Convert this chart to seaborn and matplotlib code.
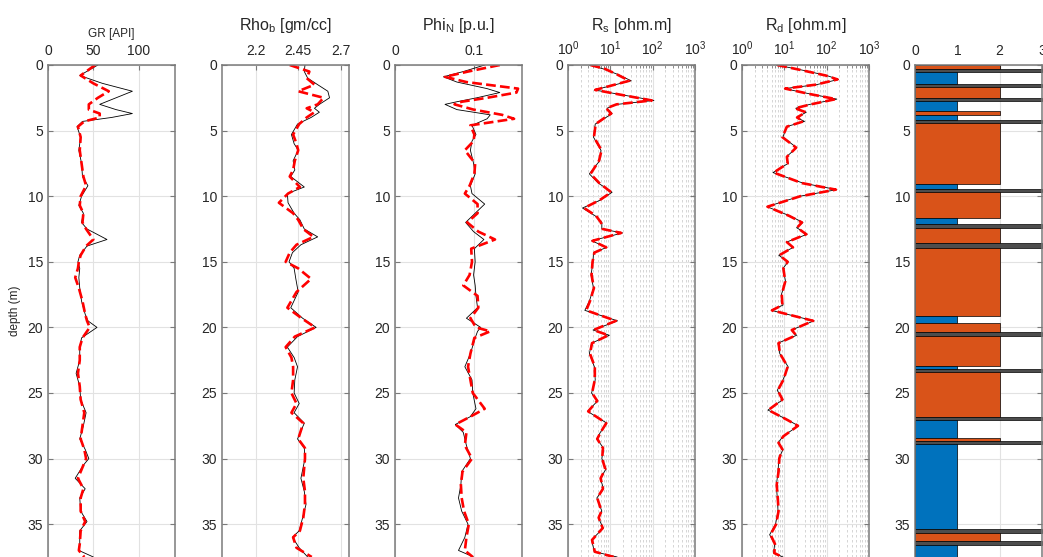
import matplotlib
matplotlib.use("Agg")
import matplotlib.pyplot as plt
import seaborn as sns
from matplotlib.ticker import LogLocator, NullFormatter

# ---------------- data ----------------
gr_depth = [0, 0.4, 0.8, 1.4, 2.0, 2.5, 3.0, 3.4, 3.7, 4.0, 4.3, 4.7, 5.5, 6.5, 7.5, 8.5, 9.2, 10.0,
            10.7, 11.3, 12.0, 12.5, 13.3, 13.8, 14.5, 15.0, 15.5, 16.2, 17.0, 18.0, 19.0, 19.5, 20.0,
            20.8, 21.5, 22.5, 23.5, 24.5, 25.5, 26.5, 27.5, 28.5, 29.3, 30.0, 30.5, 31.5, 32.3, 33.0,
            34.0, 34.8, 35.5, 36.5, 37.0, 37.5]
gr_true = [55, 45, 35, 60, 93, 75, 57, 75, 93, 70, 38, 32, 36, 34, 37, 38, 44, 37,
           34, 39, 37, 43, 65, 43, 35, 33, 35, 34, 35, 37, 41, 44, 54,
           37, 35, 35, 31, 35, 36, 42, 39, 35, 41, 45, 39, 30, 41, 35,
           36, 43, 35, 35, 34, 50]
gr_pred = [52, 44, 36, 50, 67, 55, 45, 45, 57, 57, 40, 33, 36, 35, 37, 39, 42, 36,
           35, 39, 38, 42, 50, 42, 36, 34, 33, 30, 34, 38, 41, 43, 46,
           38, 35, 35, 33, 35, 36, 40, 38, 36, 40, 42, 39, 33, 39, 36,
           36, 41, 36, 35, 34, 40]

rho_depth = [0, 0.5, 1.0, 1.5, 2.0, 2.5, 3.0, 3.3, 3.6, 4.0, 4.5, 5.3, 6.0, 6.5, 7.3, 8.0, 8.5, 9.3,
             9.8, 10.5, 11.3, 11.8, 12.5, 13.1, 13.7, 14.3, 15.0, 15.5, 16.3, 17.3, 18.5, 19.3, 20.0,
             20.7, 21.5, 22.3, 23.0, 24.0, 25.0, 25.8, 26.5, 27.3, 28.5, 29.2, 30.0, 31.5, 32.5, 33.5,
             34.5, 35.5, 36.0, 36.8, 37.5]
rho_true = [2.49, 2.486, 2.506, 2.565, 2.625, 2.635, 2.575, 2.546, 2.575, 2.526, 2.446, 2.41, 2.426,
            2.45, 2.42, 2.43, 2.406, 2.486, 2.386, 2.39, 2.426, 2.46, 2.486, 2.565, 2.466, 2.416,
            2.396, 2.426, 2.436, 2.45, 2.406, 2.476, 2.556, 2.446, 2.386, 2.426, 2.446, 2.43, 2.426,
            2.456, 2.426, 2.486, 2.446, 2.486, 2.49, 2.466, 2.486, 2.496, 2.476, 2.456, 2.416, 2.456,
            2.506]
rho_pred = [2.40, 2.516, 2.50, 2.546, 2.45, 2.60, 2.565, 2.50, 2.546, 2.50, 2.456, 2.42, 2.44,
            2.45, 2.43, 2.42, 2.40, 2.46, 2.39, 2.336, 2.42, 2.45, 2.48, 2.54, 2.44, 2.40,
            2.376, 2.45, 2.526, 2.44, 2.386, 2.47, 2.55, 2.43, 2.376, 2.41, 2.42, 2.42, 2.41,
            2.44, 2.41, 2.48, 2.45, 2.49, 2.49, 2.48, 2.49, 2.49, 2.48, 2.46, 2.42, 2.44,
            2.53]

phi_depth = [0, 0.5, 0.9, 1.3, 1.8, 2.1, 2.5, 2.8, 3.0, 3.4, 3.8, 4.1, 4.6, 5.3, 5.8, 6.5, 7.5, 8.3,
             9.2, 9.8, 10.6, 11.3, 12.0, 12.7, 13.3, 14.0, 15.0, 16.0, 16.8, 17.6, 18.5, 19.3, 20.0,
             20.3, 20.8, 22.0, 23.0, 24.0, 25.0, 26.2, 26.8, 27.4, 28.0, 29.0, 30.0, 31.0, 32.0, 33.0,
             34.0, 35.0, 36.0, 37.0, 37.5]
phi_true = [0.113, 0.086, 0.061, 0.078, 0.116, 0.132, 0.103, 0.078, 0.063, 0.078, 0.12, 0.116,
            0.097, 0.102, 0.097, 0.095, 0.099, 0.101, 0.095, 0.097, 0.113, 0.101, 0.089, 0.099,
            0.112, 0.1, 0.101, 0.099, 0.101, 0.102, 0.104, 0.09, 0.108, 0.104, 0.101, 0.095,
            0.088, 0.097, 0.098, 0.102, 0.095, 0.076, 0.086, 0.09, 0.095, 0.084, 0.083, 0.08,
            0.084, 0.092, 0.088, 0.08, 0.099]
phi_pred = [0.132, 0.092, 0.063, 0.09, 0.155, 0.153, 0.116, 0.084, 0.075, 0.099, 0.135, 0.15,
            0.095, 0.10, 0.099, 0.088, 0.101, 0.1, 0.094, 0.088, 0.104, 0.104, 0.091, 0.105,
            0.126, 0.096, 0.097, 0.094, 0.086, 0.104, 0.105, 0.095, 0.102, 0.12, 0.1, 0.095,
            0.092, 0.095, 0.098, 0.113, 0.095, 0.076, 0.09, 0.088, 0.097, 0.085, 0.083, 0.084,
            0.087, 0.093, 0.09, 0.088, 0.098]

rs_depth = [0, 0.3, 0.7, 1.2, 1.9, 2.3, 2.7, 3.0, 3.3, 3.7, 4.0, 4.5, 5.5, 6.5, 7.3, 8.3, 9.0, 9.7,
            10.3, 10.9, 11.5, 12.0, 12.5, 12.8, 13.4, 13.9, 14.3, 15.0, 16.0, 17.0, 18.0, 18.7, 19.5,
            20.2, 20.6, 21.2, 22.0, 23.0, 24.0, 25.0, 25.6, 26.4, 27.3, 28.0, 28.5, 29.2, 30.0, 30.8,
            31.5, 32.3, 33.0, 34.0, 34.5, 35.3, 36.2, 37.1, 37.5]
rs_true = [3.2, 6.9, 14.5, 31, 4.2, 21, 107, 14.5, 8.3, 11, 7.9, 4.4, 4.0, 6.0, 5.6, 3.2, 5.2, 11,
           5.8, 2.2, 4.4, 6.3, 6.3, 19.5, 3.6, 8.3, 4.0, 3.9, 3.5, 4.0, 3.2, 2.5, 14.8, 3.9, 9.5,
           3.6, 3.2, 4.2, 4.4, 3.6, 5.0, 2.9, 8.3, 5.8, 4.8, 6.9, 6.3, 7.9, 5.8, 6.9, 4.8, 6.3, 5.2,
           6.8, 3.6, 4.2, 14.5]
rs_pred = [3.4, 7.5, 14, 28, 4.4, 20, 95, 14, 8.0, 10.5, 7.5, 4.5, 4.1, 6.2, 5.4, 3.4, 5.5, 10.5,
           5.6, 2.4, 4.6, 6.0, 6.6, 18, 3.8, 8.0, 4.2, 3.8, 3.6, 4.1, 3.3, 2.7, 13.5, 4.0, 9.0,
           3.7, 3.3, 4.3, 4.3, 3.7, 4.9, 3.0, 8.0, 5.9, 4.9, 6.7, 6.4, 7.6, 5.9, 6.7, 4.9, 6.2, 5.3,
           6.6, 3.7, 4.3, 12]

rd_depth = [0, 0.4, 0.8, 1.1, 1.5, 1.8, 2.2, 2.6, 3.0, 3.3, 3.6, 4.0, 4.3, 4.7, 5.5, 6.3, 7.0, 7.5,
            8.2, 9.0, 9.5, 10.0, 10.8, 11.5, 12.0, 12.4, 12.9, 13.5, 13.9, 14.5, 15.0, 15.5, 16.5,
            17.5, 18.3, 18.7, 19.5, 20.2, 20.6, 21.2, 22.0, 23.0, 24.0, 24.8, 25.5, 26.3, 27.0, 27.5,
            28.3, 28.8, 29.3, 30.0, 31.0, 32.0, 33.0, 34.0, 35.0, 35.8, 36.5, 37.2, 37.5]
rd_true = [6.5, 27.5, 100, 190, 57.5, 10, 40, 174, 40, 18.6, 33, 19.5, 30, 11.2, 9.3, 19.5, 11.2,
           12.3, 5.4, 27.5, 174, 23.4, 3.9, 13.5, 27.5, 19.5, 34.7, 11.2, 16.2, 7.4, 12.3, 9.3,
           10.7, 8.5, 9.3, 4.9, 50, 14.8, 19.5, 7.1, 7.8, 12.3, 9.3, 6.8, 9.3, 4.1, 11.2, 21.4,
           9.3, 7.1, 9.3, 7.4, 7.1, 6.5, 6.8, 7.1, 6.2, 4.5, 5.9, 5.6, 9.3]
rd_pred = [6.8, 26, 95, 180, 55, 10.5, 38, 165, 42, 18, 32, 20, 28, 11.5, 9.0, 19, 11.5,
           12, 5.6, 26, 165, 24, 4.0, 13, 26, 20, 33, 11.5, 16, 7.6, 12, 9.5,
           10.5, 8.7, 9.0, 5.1, 48, 15, 19, 7.3, 7.9, 12, 9.5, 7.0, 9.0, 4.2, 11, 21,
           9.5, 7.3, 9.0, 7.6, 7.3, 6.6, 7.0, 7.3, 6.4, 4.7, 6.0, 5.8, 9.0]

fac_top = [0, 0.3, 0.55, 1.45, 1.7, 2.55, 2.75, 3.5, 3.8, 4.2, 4.4, 9.1, 9.45, 9.7, 11.65, 12.15,
           12.4, 13.6, 13.95, 19.1, 19.7, 20.35, 20.65, 22.95, 23.15, 23.4, 26.8, 27.05, 28.4,
           28.65, 28.9, 35.4, 35.65, 36.3, 36.6]
fac_base = [0.3, 0.55, 1.45, 1.7, 2.55, 2.75, 3.5, 3.8, 4.2, 4.4, 9.1, 9.45, 9.7, 11.65, 12.15,
            12.4, 13.6, 13.95, 19.1, 19.7, 20.35, 20.65, 22.95, 23.15, 23.4, 26.8, 27.05, 28.4,
            28.65, 28.9, 35.4, 35.65, 36.3, 36.6, 37.5]
fac_code = [2, 3, 1, 3, 2, 3, 1, 2, 1, 3, 2, 1, 3, 2, 1, 3, 2, 3, 2, 1, 2, 3, 2, 1, 3, 2, 3, 1, 2,
            3, 1, 3, 2, 3, 1]

titles = ["GR [API]", r"Rho$_\mathregular{b}$ [gm/cc]", r"Phi$_\mathregular{N}$ [p.u.]",
          r"R$_\mathregular{s}$ [ohm.m]", r"R$_\mathregular{d}$ [ohm.m]"]

# ---------------- style ----------------
sns.set_style("white")
plt.rcParams["font.family"] = ["Liberation Sans", "DejaVu Sans"]
plt.rcParams["mathtext.fontset"] = "custom"
plt.rcParams["mathtext.rm"] = "Liberation Sans"
plt.rcParams["mathtext.it"] = "Liberation Sans:italic"
plt.rcParams["mathtext.default"] = "regular"

W, H = 1043, 557
fig = plt.figure(figsize=(W / 100, H / 100), dpi=100)
lefts = [48, 222, 395, 568, 742, 915]
top_px = 65
axw = 127
axes = [fig.add_axes([l / W, 0, axw / W, (H - top_px) / H]) for l in lefts]

SPINE = "#7a7a7a"
TXT = "#262626"


def style(ax, xlim, xticks, xlabels=None, log=False):
    if log:
        ax.set_xscale("log")
    ax.set_xlim(*xlim)
    ax.set_ylim(37.5, 0)
    ax.set_xticks(xticks)
    if xlabels is not None:
        ax.set_xticklabels(xlabels)
    if log:
        ax.xaxis.set_minor_locator(LogLocator(base=10, subs=range(2, 10), numticks=20))
        ax.xaxis.set_minor_formatter(NullFormatter())
    ax.set_yticks(range(0, 36, 5))
    ax.set_xlabel("")
    ax.set_ylabel("")
    ax.tick_params(axis="both", which="both", direction="in", color=SPINE,
                   labelcolor=TXT, labelsize=10)
    ax.tick_params(axis="x", which="both", top=True, bottom=False, labeltop=True,
                   labelbottom=False, pad=5, length=3.5)
    ax.tick_params(axis="x", which="minor", length=2)
    ax.tick_params(axis="y", left=True, right=True, labelleft=True, pad=3.5, length=3.5)
    ax.set_axisbelow(True)
    ax.grid(True, which="major", color="#e2e2e2", lw=0.8)
    if log:
        ax.grid(True, which="minor", axis="x", color="#cfcfcf", lw=0.6, ls=(0, (3, 3)))
    for s in ["left", "right", "top"]:
        ax.spines[s].set_color(SPINE)
        ax.spines[s].set_linewidth(1.1)
    ax.spines["bottom"].set_visible(False)


curves = [(gr_depth, gr_true, gr_pred), (rho_depth, rho_true, rho_pred),
          (phi_depth, phi_true, phi_pred), (rs_depth, rs_true, rs_pred),
          (rd_depth, rd_true, rd_pred)]
for ax, (d, t, p) in zip(axes[:5], curves):
    sns.lineplot(x=t, y=d, orient="y", sort=False, estimator=None, ax=ax,
                 color="black", lw=0.6)
    sns.lineplot(x=p, y=d, orient="y", sort=False, estimator=None, ax=ax,
                 color="#ff0000", lw=1.9, linestyle="--")

style(axes[0], (0, 140), [0, 50, 100])
style(axes[1], (2.0, 2.75), [2.2, 2.45, 2.7], ["2.2", "2.45", "2.7"])
style(axes[2], (0, 0.16), [0, 0.1], ["0", "0.1"])
style(axes[3], (1, 1000), [1, 10, 100, 1000], log=True)
style(axes[4], (1, 1000), [1, 10, 100, 1000], log=True)

# facies column
fac_colors = {1: "#0072BD", 2: "#D95319", 3: "#4D4D4D"}
axf = axes[5]
for t, b, c in zip(fac_top, fac_base, fac_code):
    axf.fill_betweenx([t, b], 0, c, color=fac_colors[c], ec="black", lw=0.5)
style(axf, (0, 3), [0, 1, 2, 3])

# titles
axes[0].text(0.5, 1.056, titles[0], transform=axes[0].transAxes, ha="center",
             va="baseline", fontsize=8.5, color=TXT)
for ax, t in zip(axes[1:5], titles[1:]):
    ax.text(0.5, 1.071, t, transform=ax.transAxes, ha="center", va="baseline",
            fontsize=11.5, color=TXT)

fig.text(15 / W, 1 - 311 / H, "depth (m)", rotation=90, ha="center", va="center",
         fontsize=8.5, color=TXT)

fig.savefig("out.png", dpi=100)
